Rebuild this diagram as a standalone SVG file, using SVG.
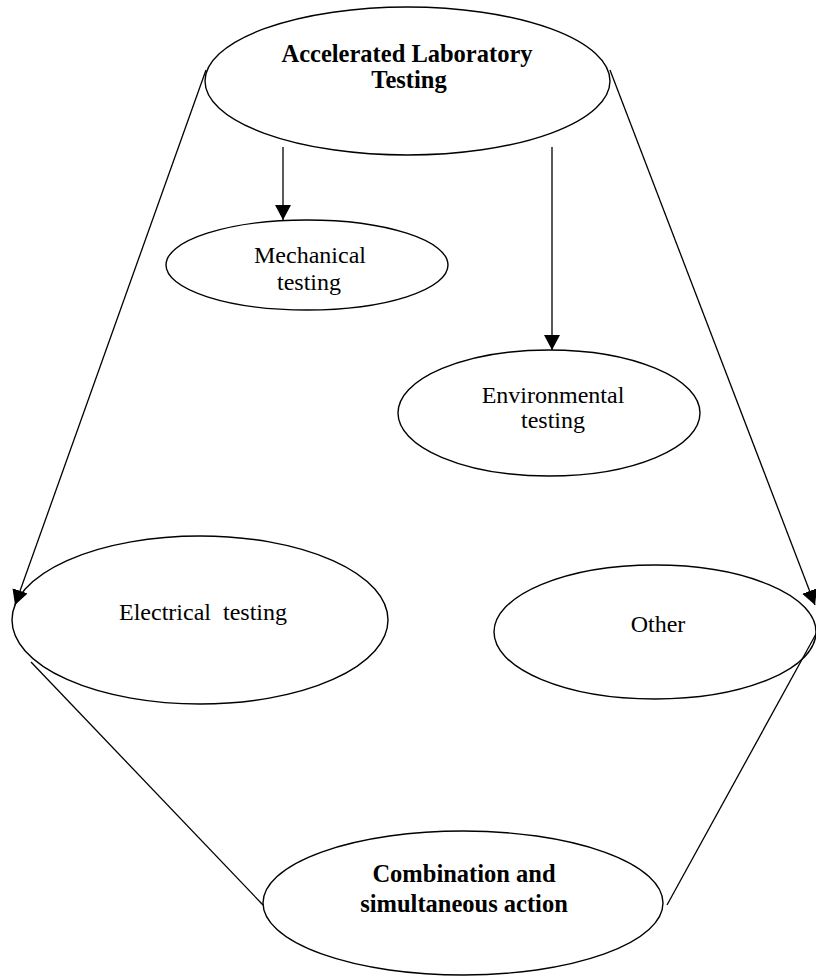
<svg xmlns="http://www.w3.org/2000/svg" width="816" height="978" viewBox="0 0 816 978">
  <style>
    .node { fill: #ffffff; stroke: #000000; stroke-width: 1.4; }
    .edge { fill: none; stroke: #000000; stroke-width: 1.3; }
    .lbl { font-family: "Liberation Serif", "Times New Roman", serif; font-size: 24px; fill: #000000; text-anchor: middle; }
    .bold { font-weight: bold; font-size: 24.5px; }
  </style>
  <defs>
    <marker id="arrow" markerWidth="16" markerHeight="16" viewBox="0 0 16 16" refX="15" refY="8" orient="auto" markerUnits="userSpaceOnUse">
      <path d="M0,0 L15,8 L0,16 Z" fill="#000000"/>
    </marker>
  </defs>
  <rect width="816" height="978" fill="#ffffff"/>

  <g id="node-top">
    <ellipse class="node" cx="407.5" cy="81" rx="202.5" ry="74"/>
    <text class="lbl bold" x="407" y="62">Accelerated Laboratory</text>
    <text class="lbl bold" x="409" y="88">Testing</text>
  </g>

  <g id="node-mechanical">
    <ellipse class="node" cx="307" cy="265" rx="141" ry="45"/>
    <text class="lbl" x="310" y="263">Mechanical</text>
    <text class="lbl" x="309" y="290">testing</text>
  </g>

  <g id="node-environmental">
    <ellipse class="node" cx="549" cy="413" rx="151" ry="63"/>
    <text class="lbl" x="553" y="403">Environmental</text>
    <text class="lbl" x="553" y="428">testing</text>
  </g>

  <g id="node-electrical">
    <ellipse class="node" cx="200" cy="620" rx="188" ry="84"/>
    <text class="lbl" x="203" y="620" xml:space="preserve">Electrical  testing</text>
  </g>

  <g id="node-other">
    <ellipse class="node" cx="655" cy="632" rx="161" ry="67"/>
    <text class="lbl" x="658" y="632">Other</text>
  </g>

  <g id="node-combination">
    <ellipse class="node" cx="463" cy="903" rx="200" ry="72"/>
    <text class="lbl bold" x="464" y="882">Combination and</text>
    <text class="lbl bold" x="464" y="912">simultaneous action</text>
  </g>

  <g id="connectors">
    <line class="edge" x1="283" y1="147" x2="283" y2="220" marker-end="url(#arrow)"/>
    <line class="edge" x1="552" y1="147" x2="552" y2="350" marker-end="url(#arrow)"/>
    <line class="edge" x1="206" y1="70" x2="15" y2="605" marker-end="url(#arrow)"/>
    <line class="edge" x1="610" y1="70" x2="815" y2="605" marker-end="url(#arrow)"/>
    <line class="edge" x1="31" y1="662" x2="263" y2="905"/>
    <line class="edge" x1="816" y1="634" x2="667" y2="905"/>
  </g>
</svg>
